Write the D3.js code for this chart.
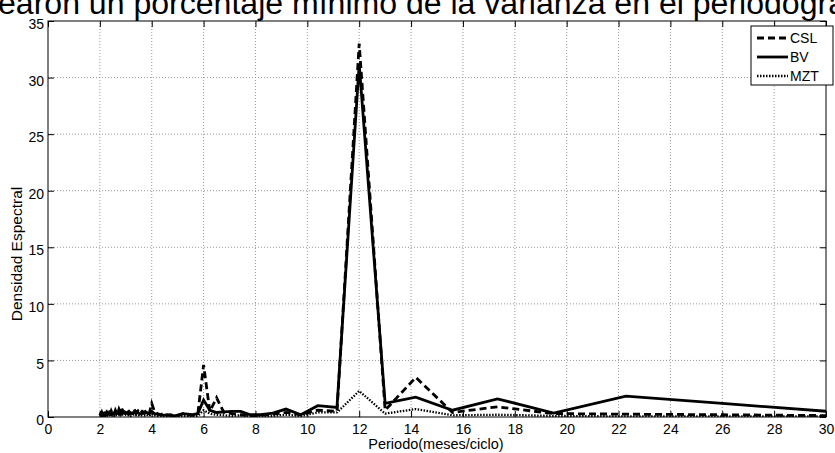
<!DOCTYPE html>
<html><head><meta charset="utf-8">
<script src="https://cdn.jsdelivr.net/npm/d3@7"></script>
<style>body{margin:0;background:#fff;} svg{display:block;font-family:"Liberation Sans",Arial,sans-serif;}</style>
</head><body>
<svg id="c" width="835" height="453"></svg>
<script>
const titleText = "earon un porcentaje mínimo de la varianza en el periodogra";
const xTicks = [0,2,4,6,8,10,12,14,16,18,20,22,24,26,28,30];
const yTicks = [0,5,10,15,20,25,30,35];
const seriesNames = ["CSL","BV","MZT"];
const periods = [2.0,2.026,2.053,2.08,2.108,2.137,2.167,2.197,2.229,2.261,2.294,2.328,2.364,2.4,2.438,
 2.476,2.516,2.557,2.6,2.644,2.69,2.737,2.786,2.836,2.889,2.943,
 3.0,3.059,3.12,3.184,3.25,3.319,3.391,3.467,3.545,
 3.628,3.714,3.805,3.9,4.0,4.105,
 4.216,4.333,4.457,4.588,4.727,4.875,5.032,5.2,5.379,5.571,5.778,
 6.0,6.24,6.5,6.783,7.091,7.429,7.8,8.211,8.667,9.176,9.75,10.4,11.143,12.0,13.0,14.182,15.6,17.333,19.5,22.286,26.0,31.2];
const csl = [0.15,0.3,0.2,0.4,0.25,0.3,0.5,0.2,0.35,0.45,0.3,0.2,0.4,0.3,0.55,
 0.35,0.5,0.3,0.6,0.4,0.3,0.7,0.45,0.8,0.5,0.4,
 0.6,0.35,0.5,0.3,0.45,0.7,0.4,0.55,0.3,
 0.5,0.4,0.6,0.3,1.2,0.5,
 0.3,0.2,0.3,0.15,0.2,0.1,0.15,0.3,0.2,0.15,0.3,
 4.6,0.5,1.7,0.4,0.3,0.2,0.1,0.15,0.25,0.4,0.2,0.6,0.5,33.0,0.6,3.5,0.4,0.9,0.3,0.25,0.2,0.1];
const bv = [0.1,0.15,0.2,0.15,0.25,0.2,0.3,0.2,0.25,0.35,0.2,0.3,0.25,0.4,0.3,
 0.25,0.35,0.3,0.45,0.3,0.35,0.25,0.4,0.3,0.5,0.35,
 0.3,0.4,0.25,0.35,0.3,0.45,0.3,0.4,0.25,
 0.35,0.3,0.4,0.3,0.5,0.3,
 0.25,0.2,0.15,0.2,0.15,0.1,0.2,0.3,0.25,0.2,0.3,
 1.5,0.6,0.4,0.45,0.5,0.5,0.2,0.2,0.35,0.7,0.2,1.0,0.85,31.2,1.2,1.75,0.6,1.6,0.35,1.85,1.2,0.3];
const mzt = [0.05,0.1,0.08,0.15,0.1,0.12,0.2,0.1,0.15,0.2,0.1,0.08,0.15,0.1,0.2,
 0.12,0.18,0.1,0.2,0.15,0.1,0.25,0.15,0.3,0.2,0.15,
 0.2,0.12,0.18,0.1,0.15,0.25,0.15,0.2,0.1,
 0.15,0.12,0.2,0.1,0.3,0.15,
 0.1,0.08,0.1,0.05,0.08,0.05,0.06,0.1,0.08,0.06,0.1,
 0.6,0.3,0.2,0.15,0.1,0.15,0.1,0.1,0.1,0.2,0.1,0.4,0.4,2.3,0.3,0.7,0.15,0.2,0.1,0.05,0.05,0.05];

const svg = d3.select("#c");
const X0=48, X1=826, Y0=417, Y1=21;
const x = d3.scaleLinear().domain([0,30]).range([X0,X1]);
const y = d3.scaleLinear().domain([0,35]).range([Y0,Y1]);

// title (cropped at the top of the figure, as in the reference)
svg.append("text").attr("x",-2).attr("y",14).attr("font-size",31).attr("fill","#000")
 .attr("textLength",848).attr("lengthAdjust","spacingAndGlyphs").text(titleText);

// grid
const g = svg.append("g");
g.selectAll(".gx").data(xTicks.slice(1,-1)).join("line")
 .attr("x1",d=>x(d)).attr("x2",d=>x(d)).attr("y1",Y0).attr("y2",Y1)
 .attr("stroke","#999").attr("stroke-width",1).attr("stroke-dasharray","1,2");
g.selectAll(".gy").data(yTicks.slice(1,-1)).join("line")
 .attr("y1",d=>y(d)).attr("y2",d=>y(d)).attr("x1",X0).attr("x2",X1)
 .attr("stroke","#999").attr("stroke-width",1).attr("stroke-dasharray","1,2");

// clip
svg.append("clipPath").attr("id","clip").append("rect").attr("x",X0).attr("y",Y1-5).attr("width",X1-X0).attr("height",Y0-Y1+5);

const line = d3.line().x(d=>x(d[0])).y(d=>y(d[1]));
const series = [
 {name:seriesNames[0], vals:csl, dash:"7,4"},
 {name:seriesNames[1], vals:bv, dash:null},
 {name:seriesNames[2], vals:mzt, dash:"1.5,1.5"}
];
const pg = svg.append("g").attr("clip-path","url(#clip)");
series.forEach(s=>{
 pg.append("path").datum(periods.map((p,i)=>[p,s.vals[i]]))
  .attr("d",line).attr("fill","none").attr("stroke","#000")
  .attr("stroke-width",s.name==="MZT"?2.3:2.8).attr("stroke-linejoin","miter")
  .attr("stroke-dasharray",s.dash);
});

// axes box
svg.append("rect").attr("x",X0).attr("y",Y1).attr("width",X1-X0).attr("height",Y0-Y1)
 .attr("fill","none").attr("stroke","#000").attr("stroke-width",1);

// axes with inward ticks
const xb = svg.append("g").attr("transform",`translate(0,${Y0})`)
 .call(d3.axisBottom(x).tickValues(xTicks).tickSizeInner(-6).tickSizeOuter(0).tickPadding(9));
const xt = svg.append("g").attr("transform",`translate(0,${Y1})`)
 .call(d3.axisTop(x).tickValues(xTicks).tickSizeInner(-6).tickSizeOuter(0).tickFormat(""));
const yl = svg.append("g").attr("transform",`translate(${X0},0)`)
 .call(d3.axisLeft(y).tickValues(yTicks).tickSizeInner(-6).tickSizeOuter(0).tickPadding(10));
const yr = svg.append("g").attr("transform",`translate(${X1},0)`)
 .call(d3.axisRight(y).tickValues(yTicks).tickSizeInner(-6).tickSizeOuter(0).tickFormat(""));
[xb,xt,yl,yr].forEach(a=>{a.select(".domain").remove(); a.selectAll("text").attr("font-size",14).attr("fill","#000").attr("font-family","'Liberation Sans',Arial,sans-serif");});
yl.selectAll("text").attr("dx","6").attr("dy","0.55em");
xb.selectAll("text").attr("dy","0.6em");

// axis labels
svg.append("text").attr("x",436).attr("y",449).attr("text-anchor","middle").attr("font-size",14.5).text("Periodo(meses/ciclo)");
svg.append("text").attr("transform","translate(22,254) rotate(-90)").attr("text-anchor","middle").attr("font-size",15.5).text("Densidad Espectral");

// legend
const lg = svg.append("g");
lg.append("rect").attr("x",751).attr("y",26).attr("width",82).attr("height",59).attr("fill","#fff").attr("stroke","#000").attr("stroke-width",1);
series.forEach((s,i)=>{
 const yy = 38 + i*19;
 lg.append("line").attr("x1",757).attr("x2",788).attr("y1",yy).attr("y2",yy).attr("stroke","#000")
  .attr("stroke-width",s.name==="MZT"?2.3:2.8).attr("stroke-dasharray",s.dash);
 lg.append("text").attr("x",790).attr("y",yy+5).attr("font-size",14).text(s.name);
});
</script>
</body></html>
